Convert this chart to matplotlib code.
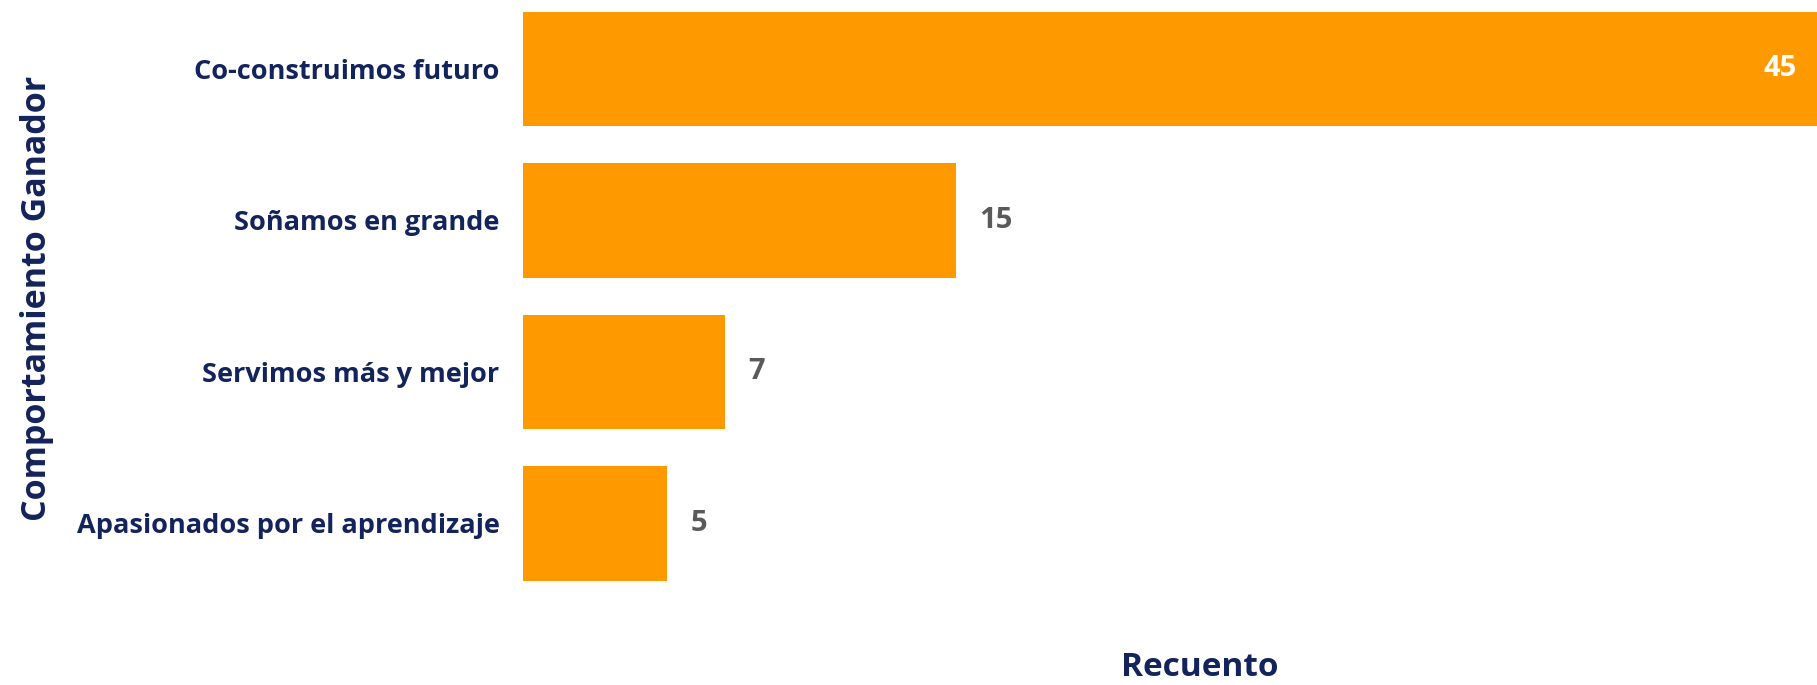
import matplotlib.pyplot as plt

# data
categorias = ["Co-construimos futuro", "Soñamos en grande",
              "Servimos más y mejor", "Apasionados por el aprendizaje"]
recuento = [45, 15, 7, 5]

naranja = "#FF9900"
azul = "#13235B"
gris = "#5A5A5A"

plt.rcParams['font.family'] = ['Open Sans', 'DejaVu Sans']

fig = plt.figure(figsize=(18.17, 6.85), dpi=100)
ax = fig.add_axes([523 / 1817, 1 - 600 / 685, 1 - 523 / 1817, 600 / 685])

pos = list(range(len(categorias)))
ax.barh(pos, recuento, height=0.757, color=naranja)
ax.set_ylim(3.505, -0.455)
ax.set_xlim(0, 44.8)

# value labels
for y, v in zip(pos, recuento):
    if v == max(recuento):
        ax.text(44.8 - 0.7, y, str(v), color="white", fontsize=21,
                fontweight="bold", ha="right", va="center")
    else:
        ax.text(v + 0.8, y, str(v), color=gris, fontsize=21,
                fontweight="bold", ha="left", va="center")

ax.set_yticks(pos)
ax.set_yticklabels(categorias, fontsize=19.5, fontweight="bold", color=azul)
ax.tick_params(axis="y", length=0, pad=17)
ax.set_xticks([])
for s in ax.spines.values():
    s.set_visible(False)

ax.set_xlabel("Recuento", fontsize=24, fontweight="bold", color=azul)
ax.xaxis.label.set_va("center")
ax.xaxis.set_label_coords(0.523, -0.112)
ax.set_ylabel("Comportamiento Ganador", fontsize=24.5, fontweight="bold", color=azul)
ax.yaxis.set_label_coords(-0.3625, 0.503)

fig.savefig("out.png", dpi=100, facecolor="white")
